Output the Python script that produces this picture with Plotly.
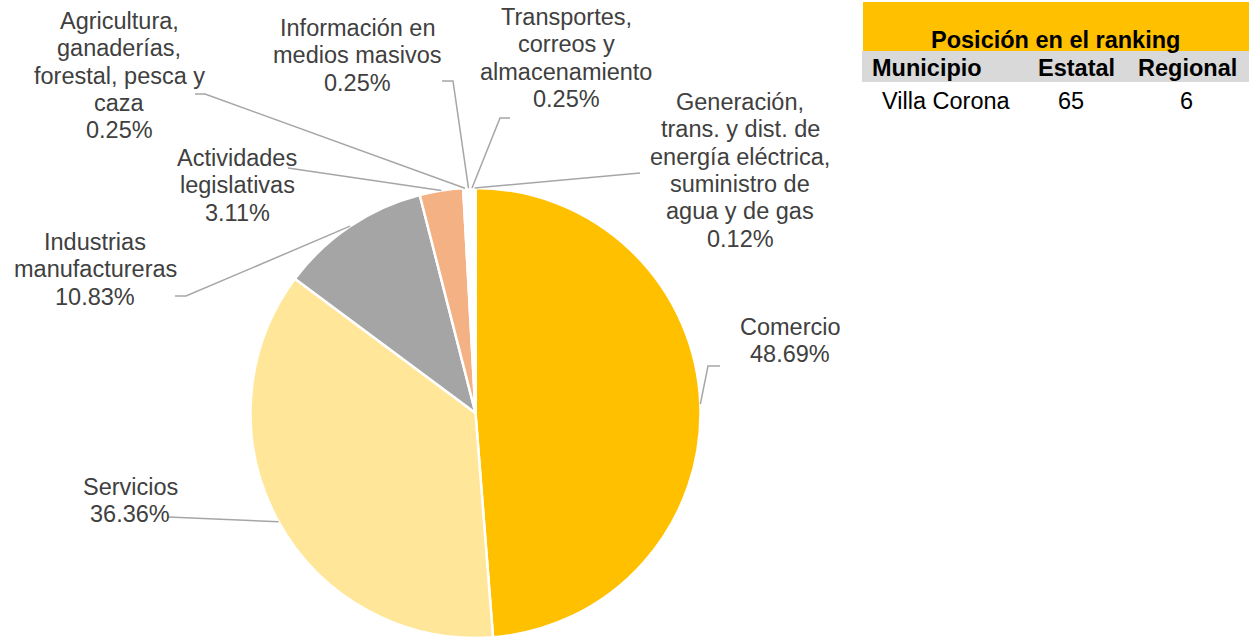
import math
import plotly.graph_objects as go

# ---------------- data ----------------
categories = [
    "Comercio",
    "Servicios",
    "Industrias<br>manufactureras",
    "Actividades<br>legislativas",
    "Agricultura,<br>ganaderías,<br>forestal, pesca y<br>caza",
    "Información en<br>medios masivos",
    "Transportes,<br>correos y<br>almacenamiento",
    "Generación,<br>trans. y dist. de<br>energía eléctrica,<br>suministro de<br>agua y de gas",
]
values = [48.69, 36.36, 10.83, 3.11, 0.25, 0.25, 0.25, 0.12]
colors = ["#FFC000", "#FFE699", "#A5A5A5", "#F4B183", "#FFFFFF", "#FFFFFF", "#FFFFFF", "#FFFFFF"]

table_title = "Posición en el ranking"
table_header = ["Municipio", "Estatal", "Regional"]
table_row = ["Villa Corona", "65", "6"]

# ---------------- layout constants ----------------
W, H = 1249, 640
FONT = "Liberation Sans, Arial, sans-serif"
FS = 23.5
PITCH = 27.3
TXT = "#404040"
LINE = "#A6A6A6"

# pie placement (pixels)
PX0, PX1, PY0, PY1 = 250, 701, 188, 638
cx, cy = (PX0 + PX1) / 2, (PY0 + PY1) / 2
R = (PY1 - PY0) / 2

# label block positions: (center x, first-line y)
label_pos = [(790, 327), (130, 487), (95, 242), (237, 158), (119, 21), (357, 28), (566, 17), (740, 102)]
# leader line label-side points
leader_pts = [
    [(720, 366), (708, 366)],
    [(168, 517)],
    [(175, 296), (186, 296)],
    [(288, 168)],
    [(195, 94), (205, 94)],
    [(442, 81), (453, 81)],
    [(510, 118), (500, 118)],
    [(640, 173)],
]


def fx(x):
    return x / W


def fy(y):
    return 1 - y / H


fig = go.Figure()
fig.add_trace(go.Pie(
    values=values,
    labels=[c.replace("<br>", " ") for c in categories],
    marker=dict(colors=colors, line=dict(color="#FFFFFF", width=2.5)),
    sort=False,
    direction="clockwise",
    rotation=0,
    textinfo="none",
    hoverinfo="label+percent",
    showlegend=False,
    domain=dict(x=[fx(PX0), fx(PX1)], y=[fy(PY1), fy(PY0)]),
))

annotations = []
shapes = []

total = sum(values)
cum = 0.0
for i, (cat, v) in enumerate(zip(categories, values)):
    mid = (cum + v / 2) / total
    cum += v
    th = 2 * math.pi * mid
    ex = cx + R * math.sin(th)
    ey = cy - R * math.cos(th)
    lines = cat.split("<br>") + [f"{v:.2f}%"]
    lx, ly = label_pos[i]
    for k, t in enumerate(lines):
        annotations.append(dict(
            x=fx(lx), y=fy(ly + k * PITCH), xref="paper", yref="paper",
            text=t, showarrow=False, xanchor="center", yanchor="middle",
            font=dict(family=FONT, size=FS, color=TXT),
        ))
    pts = leader_pts[i] + [(ex, ey)]
    path = "M " + " L ".join(f"{fx(px)},{fy(py)}" for px, py in pts)
    shapes.append(dict(type="path", path=path, xref="paper", yref="paper",
                       line=dict(color=LINE, width=1.5), layer="above"))

# ---------------- ranking table ----------------
shapes.append(dict(type="rect", xref="paper", yref="paper",
                   x0=fx(863), x1=fx(1249), y0=fy(51), y1=fy(2),
                   fillcolor="#FFC000", line=dict(width=0), layer="below"))
shapes.append(dict(type="rect", xref="paper", yref="paper",
                   x0=fx(862), x1=fx(1249), y0=fy(82), y1=fy(51),
                   fillcolor="#D9D9D9", line=dict(width=0), layer="below"))

annotations.append(dict(x=fx(1055), y=fy(40), xref="paper", yref="paper",
                        text=f"<b>{table_title}</b>", showarrow=False,
                        xanchor="center", yanchor="middle",
                        font=dict(family=FONT, size=FS, color="#000000")))
hdr_x = [927, 1076, 1187]
row_x = [946, 1071, 1186]
for t, x in zip(table_header, hdr_x):
    annotations.append(dict(x=fx(x), y=fy(68), xref="paper", yref="paper",
                            text=f"<b>{t}</b>", showarrow=False,
                            xanchor="center", yanchor="middle",
                            font=dict(family=FONT, size=FS, color="#000000")))
for t, x in zip(table_row, row_x):
    annotations.append(dict(x=fx(x), y=fy(101), xref="paper", yref="paper",
                            text=t, showarrow=False,
                            xanchor="center", yanchor="middle",
                            font=dict(family=FONT, size=FS, color="#000000")))

fig.update_layout(
    width=W, height=H,
    margin=dict(l=0, r=0, t=0, b=0),
    paper_bgcolor="#FFFFFF", plot_bgcolor="#FFFFFF",
    annotations=annotations, shapes=shapes,
    showlegend=False,
)

fig.write_html("out.html",
               config={"displayModeBar": False},
               post_script="document.body.style.margin='0px';document.body.style.overflow='hidden';")
